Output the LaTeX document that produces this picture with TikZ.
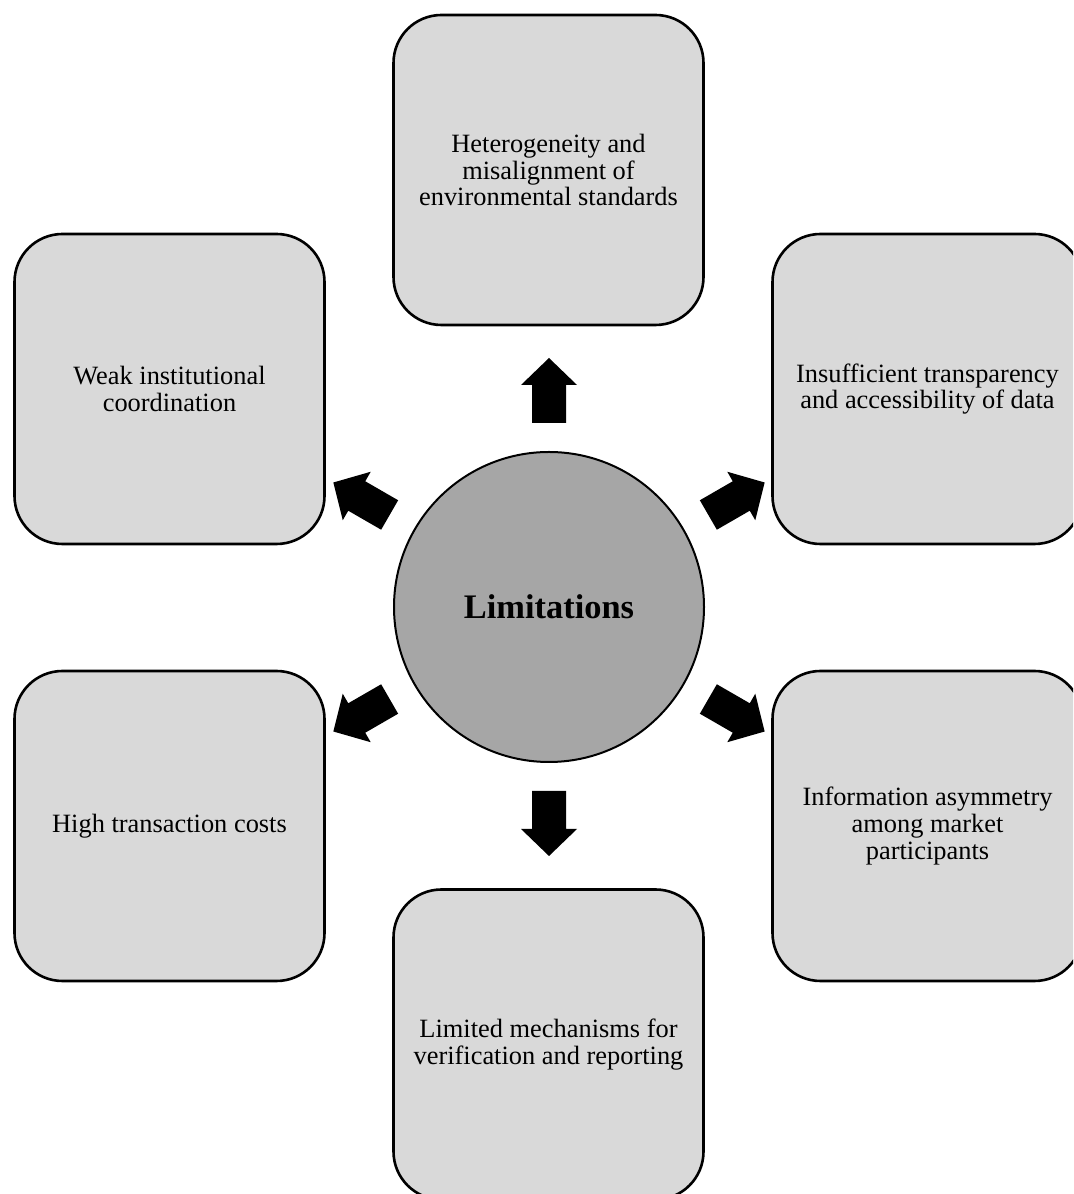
\documentclass[tikz,border=0pt]{standalone}
\usepackage{fontspec}
\setmainfont{Liberation Serif}
\usetikzlibrary{positioning}
\definecolor{boxgray}{HTML}{D9D9D9}
\definecolor{hubgray}{HTML}{A6A6A6}
\newcommand{\bxfont}{\fontsize{13.2pt}{13.4pt}\selectfont}
\newcommand{\hubfont}{\fontsize{17.2pt}{18pt}\selectfont\bfseries}

\begin{document}
\begin{tikzpicture}[x=0.5pt,y=0.5pt,
  limbox/.style={draw,line width=1.3pt,fill=boxgray,rounded corners=24pt,
    minimum width=155pt,minimum height=155pt,align=center,font=\bxfont},
  hub/.style={circle,draw,line width=1pt,fill=hubgray,minimum size=155pt,
    inner sep=0pt,font=\hubfont}]
  \useasboundingbox (0,0) rectangle (1073,1194);
  \clip (0,0) rectangle (1073,1194);
  \node[hub] (lim) at (549,587) {Limitations};
  \node[limbox] (std) at (548.5,1024) {Heterogeneity and\\misalignment of\\environmental standards};
  \node[limbox] (inst) at (169.5,805) {Weak institutional\\coordination};
  \node[limbox] (data) at (927.5,805) {Insufficient transparency\\and accessibility of data};
  \node[limbox] (cost) at (169.5,368) {High transaction costs};
  \node[limbox] (asym) at (927.5,368) {Information asymmetry\\among market\\participants};
  \node[limbox] (verif) at (548.5,149.5) {Limited mechanisms for\\verification and reporting};
  \foreach \a in {90,30,150,210,270,330} {
    \begin{scope}[shift={(lim.center)},rotate=\a]
      \fill[black] (184,-17) -- (222,-17) -- (222,-28) -- (249,0)
        -- (222,28) -- (222,17) -- (184,17) -- cycle;
    \end{scope}
  }
\end{tikzpicture}
\end{document}
